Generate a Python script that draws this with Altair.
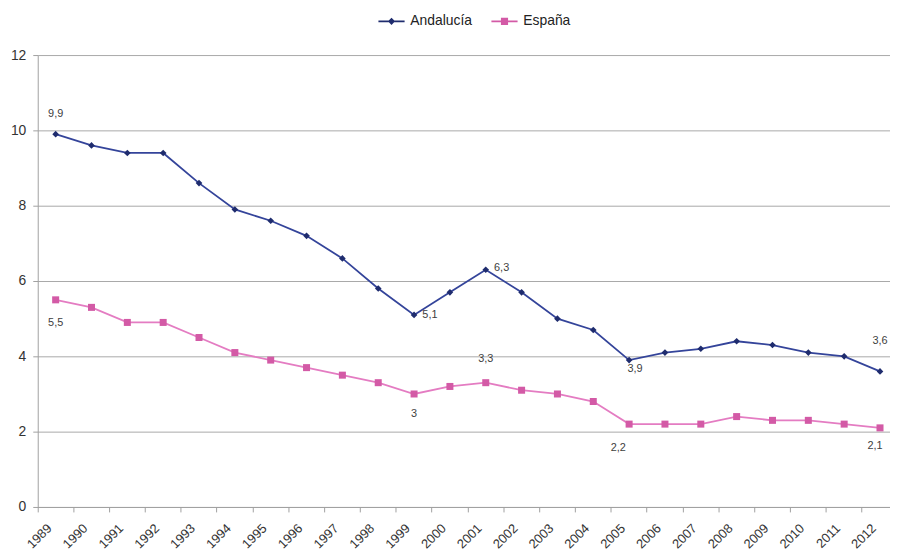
import altair as alt
import pandas as pd

years = [str(y) for y in range(1989, 2013)]
andalucia = [9.9, 9.6, 9.4, 9.4, 8.6, 7.9, 7.6, 7.2, 6.6, 5.8, 5.1, 5.7,
             6.3, 5.7, 5.0, 4.7, 3.9, 4.1, 4.2, 4.4, 4.3, 4.1, 4.0, 3.6]
espana = [5.5, 5.3, 4.9, 4.9, 4.5, 4.1, 3.9, 3.7, 3.5, 3.3, 3.0, 3.2,
          3.3, 3.1, 3.0, 2.8, 2.2, 2.2, 2.2, 2.4, 2.3, 2.3, 2.2, 2.1]
series = ["Andalucía", "España"]
y_ticks = [0, 2, 4, 6, 8, 10, 12]

# which points carry a value label
labelled = [("Andalucía", "1989"), ("Andalucía", "1999"), ("Andalucía", "2001"),
            ("Andalucía", "2005"), ("Andalucía", "2012"),
            ("España", "1989"), ("España", "1999"), ("España", "2001"),
            ("España", "2005"), ("España", "2012")]

# styling
line_colors = ["#34449a", "#e47cc2"]
marker_colors = ["#1f2c6e", "#d35aa6"]
marker_shapes = ["diamond", "square"]
legend_paths = [
    "M-2.2,-0.13L2.2,-0.13L2.2,0.13L-2.2,0.13Z M0,-0.6L0.6,0L0,0.6L-0.6,0Z",
    "M-2.2,-0.13L2.2,-0.13L2.2,0.13L-2.2,0.13Z M-0.6,-0.6L0.6,-0.6L0.6,0.6L-0.6,0.6Z",
]
label_offsets = {
    ("Andalucía", "1989"): (0, -20), ("Andalucía", "1999"): (16, 0),
    ("Andalucía", "2001"): (16, -2), ("Andalucía", "2005"): (6, 9),
    ("Andalucía", "2012"): (0, -31),
    ("España", "1989"): (0, 23), ("España", "1999"): (0, 20),
    ("España", "2001"): (0, -24), ("España", "2005"): (-11, 24),
    ("España", "2012"): (-5, 18),
}
FONT = "Liberation Sans"

rows = []
for s, vals in zip(series, [andalucia, espana]):
    for yr, v in zip(years, vals):
        rows.append({"year": yr, "series": s, "value": v})
df = pd.DataFrame(rows)

x_enc = alt.X(
    "year:O", sort=years, title=None,
    scale=alt.Scale(type="band", paddingInner=0, paddingOuter=0, range=[0, 868]),
    axis=alt.Axis(bandPosition=0, labelAngle=-45, labelAlign="right",
                  labelBaseline="middle", labelPadding=14, labelOffset=-6,
                  labelFontSize=13, labelFont=FONT, labelColor="#333333",
                  tickSize=5, tickColor="#a0a0a0", domainColor="#a0a0a0",
                  grid=False, labelOverlap=False),
)
y_enc = alt.Y(
    "value:Q", title=None,
    scale=alt.Scale(domain=[0, 12], nice=False),
    axis=alt.Axis(values=y_ticks, labelFontSize=14, labelFont=FONT,
                  labelColor="#333333", labelPadding=7, tickSize=5,
                  tickColor="#a0a0a0", domainColor="#a0a0a0",
                  gridColor="#a8a8a8", gridWidth=1),
)

base = alt.Chart(df)

line_layers = []
point_layers = []
for s, lc, mc, sh, sz in zip(series, line_colors, marker_colors, marker_shapes, [45, 50]):
    sub = base.transform_filter(alt.datum.series == s)
    line_layers.append(sub.mark_line(strokeWidth=1.8, color=lc).encode(x=x_enc, y=y_enc))
    point_layers.append(
        sub.mark_point(filled=True, shape=sh, color=mc, size=sz, opacity=1)
        .encode(x=x_enc, y=y_enc)
    )

leg = dict(title=None, orient="none", legendX=350, legendY=-41,
           direction="horizontal", symbolSize=144, symbolStrokeWidth=0,
           symbolOpacity=1, labelOffset=12, columnPadding=18, labelFontSize=14,
           labelFont=FONT, labelColor="#222222")

legend_layer = base.transform_filter("false").mark_point(filled=True, opacity=1).encode(
    x=x_enc, y=y_enc,
    fill=alt.Fill("series:N", scale=alt.Scale(domain=series, range=marker_colors),
                  legend=alt.Legend(**leg)),
    shape=alt.Shape("series:N", scale=alt.Scale(domain=series, range=legend_paths),
                    legend=alt.Legend(**leg)),
)

text_layers = []
for s, yr in labelled:
    dx, dy = label_offsets[(s, yr)]
    text_layers.append(
        base.transform_filter((alt.datum.series == s) & (alt.datum.year == yr))
        .transform_calculate(lab="replace(toString(datum.value), '.', ',')")
        .mark_text(dx=dx, dy=dy, fontSize=11, font=FONT, color="#404040")
        .encode(x=x_enc, y=y_enc, text="lab:N")
    )

chart = alt.layer(*line_layers, *point_layers, legend_layer, *text_layers).properties(
    width=860, height=456,
    autosize=alt.AutoSizeParams(type="none"),
    padding={"left": 30, "top": 45, "right": 0, "bottom": 47},
).configure_view(stroke=None)

chart.save("out.html", embed_options={"renderer": "svg", "actions": False})
